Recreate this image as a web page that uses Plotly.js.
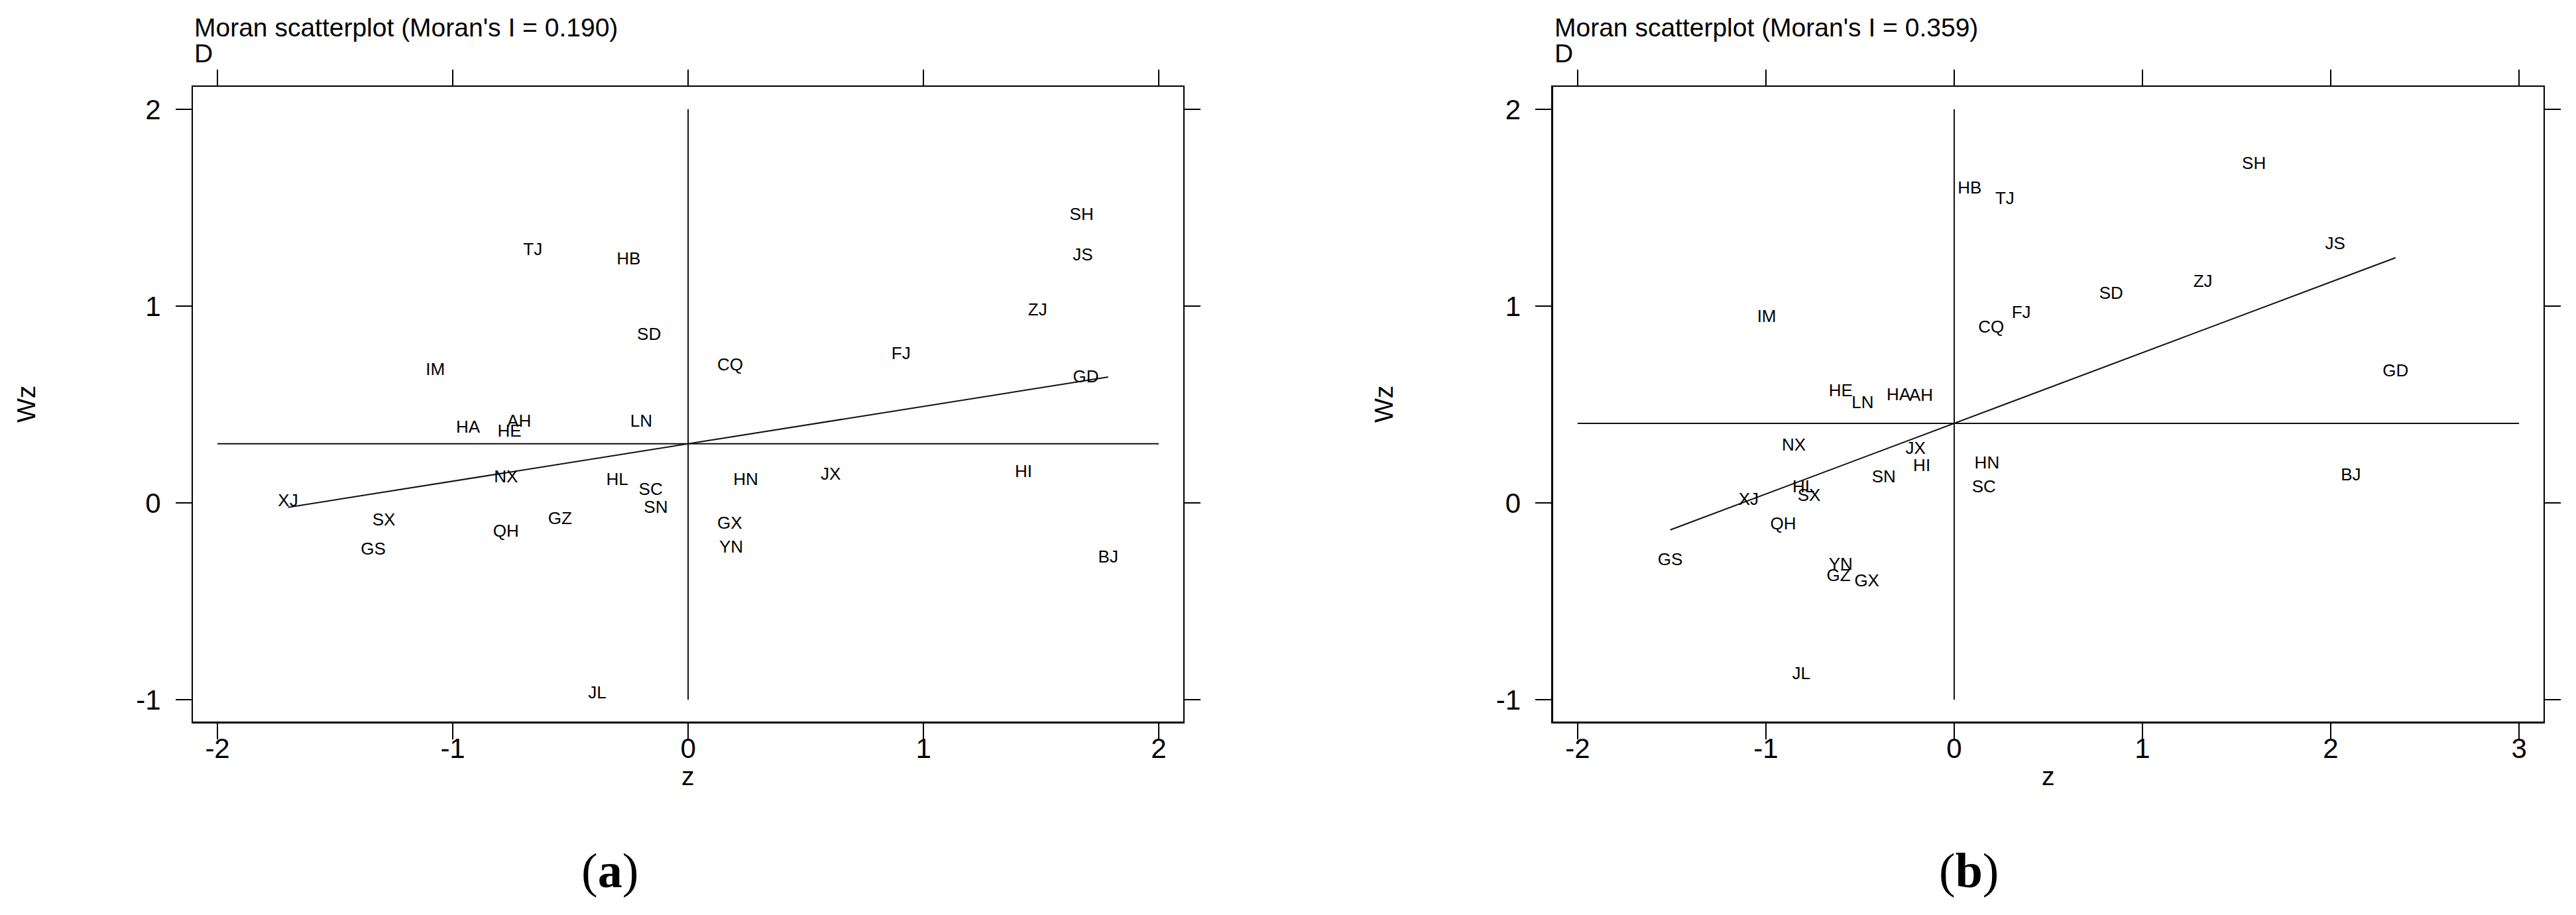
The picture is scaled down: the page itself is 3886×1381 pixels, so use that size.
<!DOCTYPE html>
<html>
<head>
<meta charset="utf-8">
<script src="https://cdn.plot.ly/plotly-3.0.1.min.js"></script>
<style>html,body{margin:0;padding:0;background:#fff;}#chart{width:3886px;height:1381px;}</style>
</head>
<body>
<div id="chart"></div>
<script>
// ---- data ----
const provinces = ['SH','JS','ZJ','FJ','GD','TJ','HB','SD','CQ','IM','LN','HA','AH','HE','XJ','NX','HL','SC','SN','HN','JX','HI','SX','GZ','QH','GS','GX','YN','BJ','JL'];

// panel (a)
const zA  = [1.672,1.677,1.485,0.905,1.690,-0.660,-0.253,-0.166,0.179,-1.074,-0.199,-0.935,-0.718,-0.759,-1.700,-0.774,-0.301,-0.159,-0.137,0.245,0.606,1.425,-1.293,-0.544,-0.774,-1.338,0.177,0.183,1.785,-0.386];
const wzA = [1.458,1.254,0.974,0.752,0.635,1.281,1.233,0.849,0.695,0.672,0.409,0.379,0.409,0.358,0.005,0.125,0.111,0.061,-0.028,0.111,0.138,0.153,-0.094,-0.085,-0.149,-0.241,-0.110,-0.231,-0.281,-0.970];
const moranA = 0.190;
const meanZA = 0.0;
const meanWzA = 0.30;

// panel (b)
const zB  = [1.592,2.023,1.321,0.356,2.344,0.269,0.082,0.834,0.196,-0.996,-0.486,-0.295,-0.176,-0.603,-1.092,-0.852,-0.800,0.158,-0.374,0.174,-0.205,-0.172,-0.771,-0.614,-0.908,-1.508,-0.464,-0.603,2.107,-0.812];
const wzB = [1.718,1.311,1.120,0.962,0.666,1.539,1.594,1.060,0.887,0.940,0.504,0.544,0.541,0.564,0.012,0.288,0.074,0.074,0.125,0.195,0.272,0.183,0.032,-0.375,-0.113,-0.295,-0.404,-0.320,0.136,-0.873];
const moranB = 0.359;
const meanZB = 0.0;
const meanWzB = 0.404;

// axis ticks
const xTicksA = [-2,-1,0,1,2];
const xTicksB = [-2,-1,0,1,2,3];
const yTicks  = [-1,0,1,2];

// reference line extents
const refXA = [-2, 2];
const refXB = [-2, 3];
const refY  = [-1, 2];

// ---- build ----
const FONT = 'Liberation Sans, Arial, sans-serif';
function fitLine(z, I, mz, mwz) {
  const lo = Math.min(...z), hi = Math.max(...z);
  return {x: [lo, hi], y: [mwz + I*(lo-mz), mwz + I*(hi-mz)]};
}
function panel(z, wz, I, mz, mwz, refX, xa, ya) {
  const fl = fitLine(z, I, mz, mwz);
  const lineStyle = {color: '#111', width: 2};
  return [
    {x: refX, y: [mwz, mwz], mode: 'lines', line: lineStyle, xaxis: xa, yaxis: ya, hoverinfo: 'skip'},
    {x: [mz, mz], y: refY, mode: 'lines', line: lineStyle, xaxis: xa, yaxis: ya, hoverinfo: 'skip'},
    {x: fl.x, y: fl.y, mode: 'lines', line: lineStyle, xaxis: xa, yaxis: ya, hoverinfo: 'skip'},
    {x: z, y: wz, text: provinces, mode: 'text', textposition: 'middle center',
     textfont: {family: FONT, size: 26, color: '#000'}, xaxis: xa, yaxis: ya, cliponaxis: false}
  ];
}
const data = [
  ...panel(zA, wzA, moranA, meanZA, meanWzA, refXA, 'x', 'y'),
  ...panel(zB, wzB, moranB, meanZB, meanWzB, refXB, 'x2', 'y2')
];

function axisCommon() {
  return {
    showline: true, linecolor: '#000', linewidth: 2.5, mirror: 'ticks',
    ticks: 'outside', ticklen: 24, tickwidth: 2.5, tickcolor: '#000',
    showgrid: false, zeroline: false,
    tickfont: {family: FONT, size: 42, color: '#000'},
    tickmode: 'array'
  };
}
const fmt = v => String(v); // hyphen-minus like the reference
const yDom = [0.21108, 0.90514];
const layout = {
  width: 3886, height: 1381,
  margin: {l: 0, r: 0, t: 0, b: 0},
  paper_bgcolor: '#fff', plot_bgcolor: '#fff',
  showlegend: false,
  xaxis: Object.assign(axisCommon(), {domain: [0.07501, 0.45924], range: [-2.103, 2.103], anchor: 'y',
    tickvals: xTicksA, ticktext: xTicksA.map(fmt), ticklabelstandoff: -22}),
  yaxis: Object.assign(axisCommon(), {domain: yDom, range: [-1.113, 2.114], anchor: 'x',
    tickvals: yTicks, ticktext: yTicks.map(fmt), ticklabelstandoff: 14}),
  xaxis2: Object.assign(axisCommon(), {domain: [0.60293, 0.98739], range: [-2.13, 3.13], anchor: 'y2',
    tickvals: xTicksB, ticktext: xTicksB.map(fmt), ticklabelstandoff: -22}),
  yaxis2: Object.assign(axisCommon(), {domain: yDom, range: [-1.113, 2.114], anchor: 'x2',
    tickvals: yTicks, ticktext: yTicks.map(fmt), ticklabelstandoff: 14}),
  annotations: [
    {text: "Moran scatterplot (Moran's I = " + moranA.toFixed(3) + ")", xref: 'paper', yref: 'paper', x: 0.07501, y: 0.96959, xanchor: 'left', yanchor: 'middle', showarrow: false, font: {family: FONT, size: 39, color: '#000'}},
    {text: 'D', xref: 'paper', yref: 'paper', x: 0.07501, y: 0.94135, xanchor: 'left', yanchor: 'middle', showarrow: false, font: {family: FONT, size: 39, color: '#000'}},
    {text: "Moran scatterplot (Moran's I = " + moranB.toFixed(3) + ")", xref: 'paper', yref: 'paper', x: 0.60293, y: 0.96959, xanchor: 'left', yanchor: 'middle', showarrow: false, font: {family: FONT, size: 39, color: '#000'}},
    {text: 'D', xref: 'paper', yref: 'paper', x: 0.60293, y: 0.94135, xanchor: 'left', yanchor: 'middle', showarrow: false, font: {family: FONT, size: 39, color: '#000'}},
    {text: 'z', xref: 'paper', yref: 'paper', x: 0.26711, y: 0.15134, xanchor: 'center', yanchor: 'middle', showarrow: false, font: {family: FONT, size: 39, color: '#000'}},
    {text: 'z', xref: 'paper', yref: 'paper', x: 0.79516, y: 0.15134, xanchor: 'center', yanchor: 'middle', showarrow: false, font: {family: FONT, size: 39, color: '#000'}},
    {text: 'Wz', xref: 'paper', yref: 'paper', x: 0.01029, y: 0.5583, xanchor: 'center', yanchor: 'middle', textangle: -90, showarrow: false, font: {family: FONT, size: 39, color: '#000'}},
    {text: 'Wz', xref: 'paper', yref: 'paper', x: 0.5373, y: 0.5583, xanchor: 'center', yanchor: 'middle', textangle: -90, showarrow: false, font: {family: FONT, size: 39, color: '#000'}},
    {text: '(<b>a</b>)', xref: 'paper', yref: 'paper', x: 0.23675, y: 0.0485, xanchor: 'center', yanchor: 'middle', showarrow: false, font: {family: 'Liberation Serif, Times New Roman, serif', size: 74, color: '#000'}},
    {text: '(<b>b</b>)', xref: 'paper', yref: 'paper', x: 0.76428, y: 0.0485, xanchor: 'center', yanchor: 'middle', showarrow: false, font: {family: 'Liberation Serif, Times New Roman, serif', size: 74, color: '#000'}}
  ]
};
Plotly.newPlot('chart', data, layout, {staticPlot: true});
</script>
</body>
</html>
